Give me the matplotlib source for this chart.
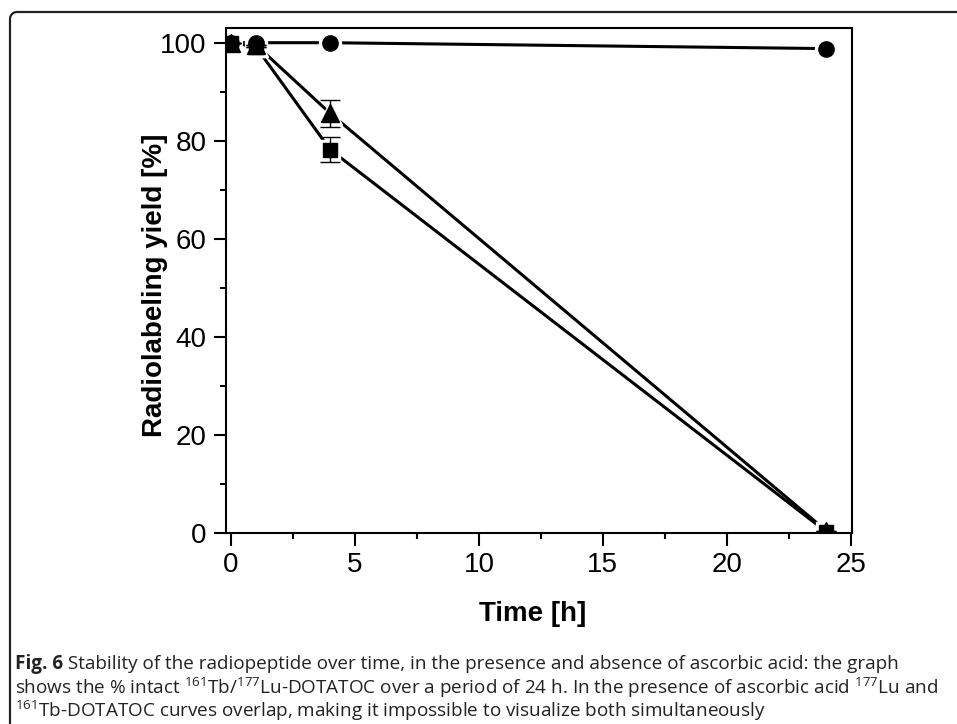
import matplotlib
matplotlib.use("Agg")
import matplotlib.pyplot as plt
from matplotlib import font_manager
from matplotlib.lines import Line2D
import numpy as np

time_h = [0, 1, 4, 24]
circle_vals = [100, 100, 100, 98.8]
triangle_vals = [100, 99.6, 85.6, 0.5]
triangle_err = [0, 0, 2.7, 0]
square_vals = [100, 99.2, 78.2, 0.3]
square_err = [0, 0, 2.5, 0]

xticks = [0, 5, 10, 15, 20, 25]
yticks = [0, 20, 40, 60, 80, 100]

names = {f.name for f in font_manager.fontManager.ttflist}
chart_font = "Liberation Sans" if "Liberation Sans" in names else "DejaVu Sans"
cap_font = "Liberation Sans Narrow" if "Liberation Sans Narrow" in names else "Open Sans"

plt.rcParams["mathtext.fontset"] = "custom"
plt.rcParams["mathtext.rm"] = cap_font
plt.rcParams["mathtext.bf"] = cap_font + ":bold"

W, H = 957, 724
fig = plt.figure(figsize=(W / 100, H / 100), dpi=100)
ax = fig.add_axes([226 / W, 1 - 533 / H, (852 - 226) / W, (533 - 28) / H])

lw = 2.2
gap = 2.4
series = [
    (square_vals, square_err, "s", 9.5),
    (triangle_vals, triangle_err, "^", 13),
    (circle_vals, None, "o", 11),
]
# connecting lines
for vals, err, mk, ms in series:
    ax.plot(time_h, vals, color="black", lw=lw, zorder=2)
# white halos (gaps in lines around markers)
for vals, err, mk, ms in series:
    ax.plot(time_h, vals, ls="none", marker=mk, ms=ms + 2 * gap, mfc="white",
            mec="white", zorder=2.5)
# error bars and black markers
for vals, err, mk, ms in series:
    if err is not None:
        ax.errorbar(time_h, vals, yerr=err, fmt="none", ecolor="black",
                    elinewidth=1.0, capsize=7, capthick=1.0, zorder=2.7)
    ax.plot(time_h, vals, ls="none", marker=mk, ms=ms, mfc="black", mec="black",
            zorder=3)

ax.set_xlim(-0.2, 25.05)
ax.set_ylim(0, 103)
ax.set_xticks(xticks)
ax.set_yticks(yticks)
ax.set_xticks(np.arange(2.5, 25, 5), minor=True)
ax.set_yticks(np.arange(10, 101, 20), minor=True)
ax.tick_params(which="major", direction="out", length=9, width=1.5, labelsize=20, pad=5)
ax.tick_params(which="minor", direction="out", length=4, width=1.5)
for lab in ax.get_xticklabels() + ax.get_yticklabels():
    lab.set_fontfamily(chart_font)
for s in ax.spines.values():
    s.set_linewidth(1.5)

fig.text(533 / W, 1 - 614 / H, "Time [h]", ha="center", va="center",
         fontsize=20, fontweight="bold", family=chart_font)
fig.text(155 / W, 1 - 285 / H, "Radiolabeling yield [%]", ha="center", va="center",
         rotation=90, fontsize=20, fontweight="bold", family=chart_font)

# border
r = 7
arc_t = np.linspace(np.pi, np.pi / 2, 12)
bx = np.concatenate([[10], 10 + r + r * np.cos(arc_t), [W]])
by = np.concatenate([[H], 12 + r - r * np.sin(arc_t), [12]])
fig.add_artist(Line2D(bx / W, 1 - by / H, transform=fig.transFigure, color="#222222", lw=1.6))

# caption
cap_color = "#222222"
line1_rest = " Stability of the radiopeptide over time, in the presence and absence of ascorbic acid: the graph"
line2 = r"shows the % intact $^{161}$Tb/$^{177}$Lu-DOTATOC over a period of 24 h. In the presence of ascorbic acid $^{177}$Lu and"
line3 = r"$^{161}$Tb-DOTATOC curves overlap, making it impossible to visualize both simultaneously"

renderer = fig.canvas.get_renderer()
fs = 12.0
t_bold = fig.text(15 / W, 1 - 664 / H, "Fig. 6", ha="left", va="center", fontsize=fs,
                  family=cap_font, fontweight="bold", color=cap_color)
t_rest = fig.text(0, 1 - 664 / H, line1_rest, ha="left", va="center", fontsize=fs,
                  family=cap_font, color=cap_color)
wb = t_bold.get_window_extent(renderer).width
wr = t_rest.get_window_extent(renderer).width
fs = fs * (895 - 15) / (wb + wr)
t_bold.set_fontsize(fs)
t_rest.set_fontsize(fs)
wb = t_bold.get_window_extent(renderer).width
t_rest.set_x((15 + wb) / W)
fig.text(15 / W, 1 - 688 / H, line2, ha="left", va="center", fontsize=fs,
         family=cap_font, color=cap_color)
fig.text(15 / W, 1 - 711 / H, line3, ha="left", va="center", fontsize=fs,
         family=cap_font, color=cap_color)

fig.savefig("out.png", dpi=100)
